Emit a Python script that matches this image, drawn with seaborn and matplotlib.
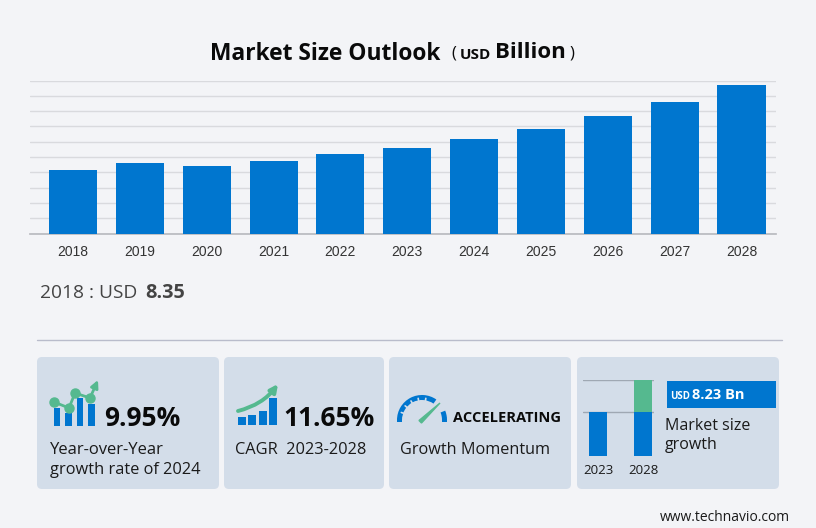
import matplotlib
matplotlib.use('Agg')
import matplotlib.pyplot as plt
from matplotlib.patches import FancyBboxPatch, Rectangle, Wedge, FancyArrowPatch
import numpy as np
import pandas as pd
import seaborn as sns

# Data
years = ['2018', '2019', '2020', '2021', '2022', '2023', '2024', '2025', '2026', '2027', '2028']
market_size = [8.35, 9.2, 8.82, 9.48, 10.33, 11.24, 12.36, 13.66, 15.3, 17.19, 19.47]
grid_ticks = [0, 2, 4, 6, 8, 10, 12, 14, 16, 18, 20]
mini_years = ['2023', '2028']
mini_base = [11.24, 11.24]
mini_growth = [0, 8.23]
icon_yoy_bars = [18, 13, 28, 22]
icon_cagr_bars = [8, 10, 14, 27]

BG = '#f3f4f7'
CARD = '#d3dde9'
BLUE = '#0076cf'
GREEN = '#55b98f'
W, H = 816, 528

sns.set_theme(style='white')
plt.rcParams['font.family'] = ['Open Sans', 'DejaVu Sans']

fig = plt.figure(figsize=(W / 100, H / 100), dpi=100, facecolor=BG)


def px_axes(x0, y0, x1, y1):
    # axes placed by pixel box, y measured from the top of the picture
    ax = fig.add_axes([x0 / W, 1 - y1 / H, (x1 - x0) / W, (y1 - y0) / H])
    ax.patch.set_alpha(0)
    return ax


# Full figure layer for cards, icons and loose text
bg = fig.add_axes([0, 0, 1, 1], zorder=0)
bg.set_xlim(0, W)
bg.set_ylim(H, 0)
bg.axis('off')

for x0, x1 in [(37, 219), (224, 384), (389, 571), (577, 779)]:
    bg.add_patch(FancyBboxPatch((x0 + 4, 361), x1 - x0 - 8, 124, boxstyle='round,pad=4,rounding_size=5',
                                fc=CARD, ec='none'))
bg.plot([37, 782], [340, 340], color='#b9bccb', lw=1)

# Main chart
ax = px_axes(30, 80.5, 776, 233.5)
ax.set_zorder(2)
df = pd.DataFrame({'year': years, 'size': market_size})
sns.barplot(data=df, x='year', y='size', color=BLUE, saturation=1, width=0.72, linewidth=0, ax=ax, zorder=3)
ax.set_xlim(-0.644, 10.516)
ax.set_ylim(0, 20)
ax.set_yticks(grid_ticks)
ax.set_yticklabels([])
ax.yaxis.grid(True, color='#d9dade', lw=1)
ax.set_axisbelow(True)
ax.set_xlabel('')
ax.set_ylabel('')
sns.despine(ax=ax, left=True, top=True, right=True)
ax.spines['bottom'].set_color('#b9bbc0')
ax.tick_params(axis='y', length=0)
ax.tick_params(axis='x', length=0, pad=8.5, labelsize=10, labelcolor='#333333')
for lab in ax.get_xticklabels():
    lab.set_fontfamily('Liberation Sans')

# Title and headline value
bg.text(325.5, 53.5, 'Market Size Outlook', fontsize=16.4, fontweight='bold', color='#0a0a0a', ha='center', va='center')
bg.text(451, 54, '(', fontsize=12, color='#0a0a0a', ha='left', va='center')
bg.text(460, 55, 'USD', fontsize=11, fontweight='bold', color='#0a0a0a', ha='left', va='center')
bg.text(495, 53, 'Billion', fontsize=16, fontweight='bold', color='#0a0a0a', ha='left', va='center')
bg.text(570, 54, ')', fontsize=12, color='#0a0a0a', ha='left', va='center')
bg.text(40, 293.5, '2018 : USD', fontsize=13.8, color='#444444', ha='left', va='center')
bg.text(145, 292.5, '8.35', fontsize=14.3, fontweight='bold', color='#444444', ha='left', va='center')

# Card 1
bg.text(104, 418, '9.95%', fontsize=19, fontweight='bold', color='#0a0a0a', ha='left', va='center')
bg.text(50, 450, 'Year-over-Year', fontsize=12, color='#1a1a1a', ha='left', va='center')
bg.text(50, 470, 'growth rate of 2024', fontsize=11.8, color='#1a1a1a', ha='left', va='center')
# Card 2
bg.text(283, 418, '11.65%', fontsize=19, fontweight='bold', color='#0a0a0a', ha='left', va='center')
bg.text(235, 450, 'CAGR  2023-2028', fontsize=11.8, color='#1a1a1a', ha='left', va='center')
# Card 3
bg.text(453, 417.5, 'ACCELERATING', fontsize=10.5, fontweight='bold', color='#0a0a0a', ha='left', va='center')
bg.text(400, 450, 'Growth Momentum', fontsize=11.7, color='#1a1a1a', ha='left', va='center')
# Card 4
bg.add_patch(Rectangle((667, 381), 109, 27, fc=BLUE, ec='none'))
bg.text(670, 396.5, 'USD', fontsize=7, fontweight='bold', color='white', ha='left', va='center')
bg.text(692, 395, '8.23 Bn', fontsize=10.5, fontweight='bold', color='white', ha='left', va='center')
bg.text(665, 425.5, 'Market size', fontsize=11.5, color='#1a1a1a', ha='left', va='center')
bg.text(665, 445, 'growth', fontsize=11.5, color='#1a1a1a', ha='left', va='center')
bg.text(790, 517.5, 'www.technavio.com', fontsize=10, color='#1a1a1a', ha='right', va='center')


def icon_bars(x0, x1, y0, y1, values, bar_width):
    # small icon bar charts, drawn the same way as the real ones
    iax = px_axes(x0, y0, x1, y1)
    iax.set_zorder(2)
    sns.barplot(x=list(range(len(values))), y=values, color=BLUE, saturation=1, width=bar_width, linewidth=0, ax=iax)
    iax.set_xlim(-0.5, len(values) - 0.5)
    iax.set_ylim(0, y1 - y0)
    iax.axis('off')


icon_bars(51.25, 97.25, 396, 426, icon_yoy_bars, 0.55)
icon_bars(236.85, 278, 396, 425, icon_cagr_bars, 0.78)

# Green trend line on first icon
trend_x = [54, 69, 75, 90]
trend_y = [402, 408, 393, 398]
trend_ax = px_axes(0, 0, W, H)
trend_ax.set_zorder(3)
trend_ax.set_xlim(0, W)
trend_ax.set_ylim(H, 0)
trend_ax.axis('off')
trend_ax.plot(trend_x, trend_y, color=GREEN, lw=2, marker='o', ms=6.5)
trend_ax.add_patch(FancyArrowPatch((90, 398), (98, 380), arrowstyle='-|>', mutation_scale=11, color=GREEN, lw=2,
                                   shrinkA=0, shrinkB=0))
# Green swoosh on second icon
trend_ax.add_patch(FancyArrowPatch((238, 411), (278, 384), connectionstyle='arc3,rad=0.18', arrowstyle='-|>',
                                   mutation_scale=11, color=GREEN, lw=2.8, shrinkA=0, shrinkB=0))

# Gauge
bg.add_patch(Wedge((422, 420), 25, 180, 305, width=5, fc=BLUE, ec='none', zorder=3))
bg.add_patch(Wedge((422, 420), 25, 338, 360, width=5, fc=BLUE, ec='none', zorder=3))
bg.add_patch(Rectangle((397, 420), 5, 2, fc=BLUE, ec='none', zorder=3))
bg.add_patch(Rectangle((442, 420), 5, 2, fc=BLUE, ec='none', zorder=3))
for deg in np.arange(200, 300, 20):
    t = np.radians(deg)
    bg.plot([422 + 19.5 * np.cos(t), 422 + 22 * np.cos(t)], [420 + 19.5 * np.sin(t), 420 + 22 * np.sin(t)],
            color=CARD, lw=1.2, zorder=4)
bg.fill([419, 421.5, 440], [420.5, 423, 403], color=GREEN, zorder=4)

# Mini bar chart in card 4
mini = px_axes(583, 380, 654, 456)
mini.set_zorder(2)
mini_df = pd.DataFrame({'year': mini_years, 'base': mini_base, 'growth': mini_growth})
sns.barplot(data=mini_df, x='year', y='base', color=BLUE, saturation=1, width=0.39, linewidth=0, ax=mini, zorder=3)
mini.bar(mini_df['year'], mini_df['growth'], bottom=mini_df['base'], color=GREEN, width=0.39, linewidth=0, zorder=3)
mini.set_xlim(-0.333, 1.244)
mini.set_ylim(0, sum([mini_base[1], mini_growth[1]]))
mini.set_yticks([mini_base[0], mini_base[1] + mini_growth[1]])
mini.set_yticklabels([])
mini.yaxis.grid(True, color='#9fa8b3', lw=1)
mini.set_xlabel('')
mini.set_ylabel('')
sns.despine(ax=mini, left=True, top=True, right=True, bottom=True)
mini.tick_params(axis='both', length=0)
mini.tick_params(axis='x', pad=6, labelsize=9.5, labelcolor='#1a1a1a')

fig.savefig('out.png', dpi=100, facecolor=BG)
